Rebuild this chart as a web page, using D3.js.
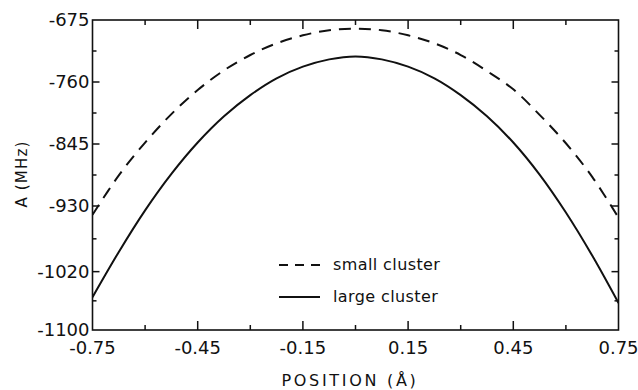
<!DOCTYPE html>
<html>
<head>
  <meta charset="UTF-8">
  <title>A (MHz) vs position</title>
  <script src="https://d3js.org/d3.v7.min.js"></script>
  <style>
    body { margin: 0; background: #fff; }
    svg { display: block; }
    .frame { fill: none; stroke: #111; stroke-width: 1.6px; }
    .tick-line { stroke: #111; stroke-width: 1.5px; }
    .curve { fill: none; stroke: #111; stroke-width: 2px; }
    .dashed { stroke-dasharray: 12 8; }
    text { font-family: "DejaVu Sans", sans-serif; fill: #111; }
    .tick-label { font-size: 18px; }
    .axis-title { font-size: 16px; letter-spacing: 2.7px; }
    .legend-text { font-size: 16px; letter-spacing: 0.4px; }
  </style>
</head>
<body>
  <div id="chart"></div>
  <script>
    const positions = [-0.75, -0.675, -0.6, -0.525, -0.45, -0.375, -0.3, -0.225, -0.15, -0.075,
                       0, 0.075, 0.15, 0.225, 0.3, 0.375, 0.45, 0.525, 0.6, 0.675, 0.75];
    const smallCluster = [-942, -888, -843, -804, -771, -744, -723, -707, -696, -689,
                          -687, -689, -696, -707, -723, -745, -770, -805, -844, -890, -946];
    const largeCluster = [-1055, -993, -936, -886, -843, -807, -778, -755, -739, -729,
                          -725, -729, -739, -755, -778, -807, -843, -887, -939, -998, -1063];

    const xTicks = [-0.75, -0.45, -0.15, 0.15, 0.45, 0.75];
    const xMinorTicks = [-0.6, -0.3, 0, 0.3, 0.6];
    const yTicks = [-1100, -1020, -930, -845, -760, -675];
    const yMinorTicks = [-1060, -975, -887.5, -802.5, -717.5];

    const legendLabels = ["small cluster", "large cluster"];

    const W = 638, H = 390;
    const m = {left: 92.5, right: 618.5, top: 20, bottom: 330};

    const svg = d3.select("#chart").append("svg")
        .attr("width", W)
        .attr("height", H);

    const x = d3.scaleLinear().domain([-0.75, 0.75]).range([m.left, m.right]);
    const y = d3.scaleLinear().domain([-1100, -675]).range([m.bottom, m.top]);

    // frame
    svg.append("rect")
        .attr("class", "frame")
        .attr("x", m.left).attr("y", m.top)
        .attr("width", m.right - m.left).attr("height", m.bottom - m.top);

    // inward ticks on all four sides
    const ticks = svg.append("g");
    function xTickMarks(vals, len) {
      vals.forEach(v => {
        ticks.append("line").attr("class", "tick-line")
          .attr("x1", x(v)).attr("x2", x(v)).attr("y1", m.bottom).attr("y2", m.bottom - len);
        ticks.append("line").attr("class", "tick-line")
          .attr("x1", x(v)).attr("x2", x(v)).attr("y1", m.top).attr("y2", m.top + len);
      });
    }
    function yTickMarks(vals, len) {
      vals.forEach(v => {
        ticks.append("line").attr("class", "tick-line")
          .attr("x1", m.left).attr("x2", m.left + len).attr("y1", y(v)).attr("y2", y(v));
        ticks.append("line").attr("class", "tick-line")
          .attr("x1", m.right).attr("x2", m.right - len).attr("y1", y(v)).attr("y2", y(v));
      });
    }
    xTickMarks(xTicks.slice(1, -1), 9);
    xTickMarks(xMinorTicks, 5);
    yTickMarks(yTicks.slice(1, -1), 7);
    yTickMarks(yMinorTicks, 4);

    // tick labels
    const fmtX = d3.format(".2f");
    svg.append("g").selectAll("text")
      .data(xTicks).join("text")
        .attr("class", "tick-label")
        .attr("x", d => x(d))
        .attr("y", 348)
        .attr("dy", "0.36em")
        .attr("text-anchor", "middle")
        .text(d => fmtX(d).replace("−", "-"));

    svg.append("g").selectAll("text")
      .data(yTicks).join("text")
        .attr("class", "tick-label")
        .attr("x", m.left - 3)
        .attr("y", d => y(d))
        .attr("dy", "0.36em")
        .attr("text-anchor", "end")
        .text(d => String(d));

    // axis titles
    svg.append("text")
        .attr("class", "axis-title")
        .attr("x", 350).attr("y", 380)
        .attr("dy", "0.36em")
        .attr("text-anchor", "middle")
        .text("POSITION (Å)");

    svg.append("text")
        .attr("class", "axis-title")
        .style("letter-spacing", "1.2px")
        .style("font-size", "15px")
        .attr("transform", "translate(22,174) rotate(-90)")
        .attr("dy", "0.36em")
        .attr("text-anchor", "middle")
        .text("A (MHz)");

    // curves
    const line = d3.line()
        .x(d => x(d[0]))
        .y(d => y(d[1]))
        .curve(d3.curveCatmullRom.alpha(0.5));

    svg.append("clipPath").attr("id", "plot-clip")
      .append("rect").attr("x", m.left).attr("y", m.top)
      .attr("width", m.right - m.left).attr("height", m.bottom - m.top);

    svg.append("path")
        .attr("class", "curve dashed")
        .attr("clip-path", "url(#plot-clip)")
        .attr("d", line(d3.zip(positions, smallCluster)));

    svg.append("path")
        .attr("class", "curve")
        .attr("clip-path", "url(#plot-clip)")
        .attr("d", line(d3.zip(positions, largeCluster)));

    // legend
    const legend = svg.append("g");
    const legendY = [265, 297];
    legendLabels.forEach((label, i) => {
      legend.append("line")
        .attr("class", "curve" + (i === 0 ? " dashed" : ""))
        .attr("x1", 279).attr("x2", 320)
        .attr("y1", legendY[i]).attr("y2", legendY[i])
        .style("stroke-dasharray", i === 0 ? "9 7" : null);
      legend.append("text")
        .attr("class", "legend-text")
        .attr("x", 333).attr("y", legendY[i])
        .attr("dy", "0.32em")
        .text(label);
    });
  </script>
</body>
</html>
